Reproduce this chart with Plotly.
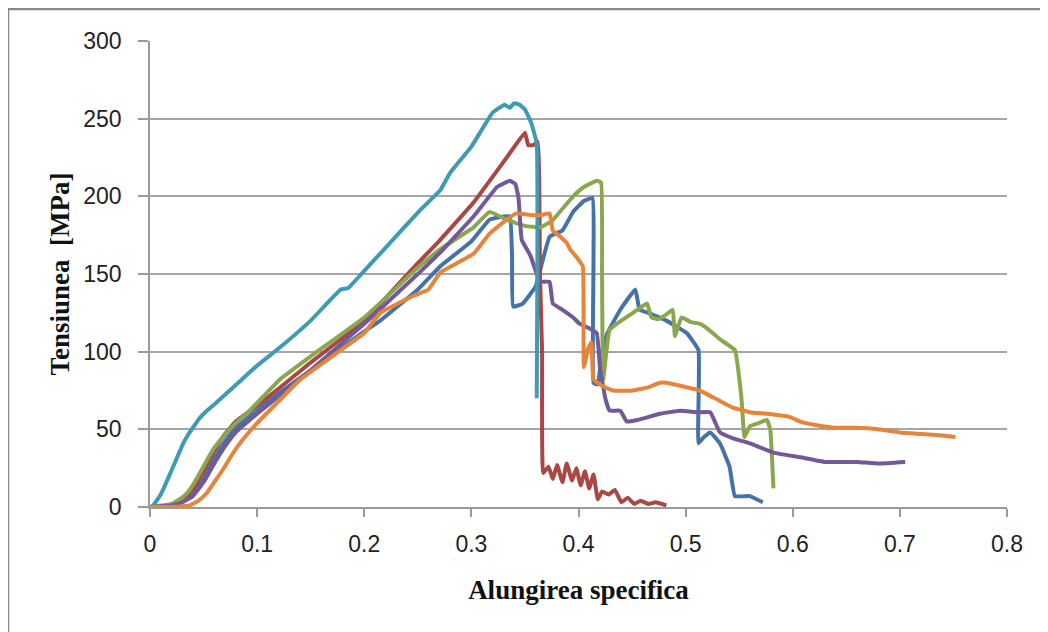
import plotly.graph_objects as go

# ---- data (strain [-], stress [MPa]) ----
blue_x = [0, 0.02, 0.03, 0.04, 0.05, 0.06, 0.07, 0.08, 0.1, 0.12, 0.15, 0.2, 0.215, 0.25, 0.271, 0.3, 0.317, 0.33, 0.336,
          0.338, 0.339, 0.348, 0.36, 0.373, 0.385, 0.395, 0.405, 0.413, 0.414, 0.418, 0.422, 0.427, 0.439, 0.453, 0.457,
          0.465, 0.482, 0.501, 0.512, 0.512, 0.517, 0.523, 0.532, 0.541, 0.546, 0.56, 0.572]
blue_y = [0, 1, 3, 8, 18, 31, 42, 51, 62, 73, 88, 113, 120, 140, 155, 171, 185, 187, 187,
          160, 129, 131, 142, 174, 178, 190, 197, 199, 80, 79, 100, 112, 127, 140, 127,
          125, 120, 112, 101, 41, 45, 48, 41, 26, 7, 7, 3]

red_x = [0, 0.02, 0.03, 0.04, 0.05, 0.06, 0.07, 0.08, 0.1, 0.15, 0.2, 0.25, 0.271, 0.302, 0.333, 0.35, 0.353, 0.358,
         0.362, 0.364, 0.366, 0.367, 0.372, 0.376, 0.38, 0.385, 0.389, 0.394, 0.398, 0.402, 0.406, 0.41, 0.414,
         0.418, 0.422, 0.428, 0.434, 0.44, 0.446, 0.452, 0.458, 0.465, 0.472, 0.482]
red_y = [0, 1, 4, 11, 23, 36, 47, 55, 65, 93, 120, 157, 172, 196, 225, 241, 233, 233,
         235, 150, 100, 22, 26, 18, 27, 16, 28, 17, 25, 14, 23, 12, 21,
         5, 10, 8, 11, 3, 6, 2, 4, 2, 3, 1]

green_x = [0, 0.02, 0.03, 0.037, 0.045, 0.053, 0.06, 0.068, 0.08, 0.09, 0.1, 0.121, 0.15, 0.2, 0.25, 0.271, 0.302,
           0.317, 0.333, 0.35, 0.364, 0.375, 0.385, 0.395, 0.405, 0.417, 0.421, 0.422, 0.423, 0.429, 0.44, 0.451,
           0.464, 0.468, 0.475, 0.482, 0.488, 0.49, 0.496, 0.505, 0.513, 0.52, 0.532, 0.546, 0.552, 0.555, 0.56,
           0.568, 0.576, 0.579, 0.582]
green_y = [0, 2, 6, 11, 20, 30, 38, 45, 54, 60, 67, 82, 97, 122, 154, 166, 180,
           190, 185, 181, 180, 184, 192, 200, 206, 210, 209, 150, 82, 114, 120, 125,
           131, 122, 121, 124, 127, 110, 122, 119, 118, 115, 108, 101, 71, 45, 52,
           54, 56, 50, 12]

purple_x = [0, 0.02, 0.03, 0.04, 0.05, 0.06, 0.07, 0.08, 0.1, 0.15, 0.2, 0.25, 0.271, 0.302, 0.324, 0.336, 0.341,
            0.344, 0.347, 0.355, 0.361, 0.364, 0.373, 0.376, 0.385, 0.389, 0.395, 0.401, 0.41, 0.417, 0.42, 0.425,
            0.429, 0.439, 0.445, 0.455, 0.476, 0.495, 0.511, 0.523, 0.532, 0.545, 0.56, 0.582, 0.607, 0.63, 0.66,
            0.68, 0.705]
purple_y = [0, 1, 3, 7, 16, 28, 39, 48, 60, 88, 118, 150, 164, 187, 206, 210, 208,
            199, 172, 162, 150, 145, 145, 131, 127, 125, 122, 118, 115, 112, 90, 70,
            62, 62, 55, 56, 60, 62, 61, 61, 48, 44, 41, 35, 32, 29, 29,
            28, 29]

cyan_x = [0, 0.003, 0.01, 0.016, 0.021, 0.026, 0.031, 0.036, 0.041, 0.046, 0.053, 0.06, 0.068, 0.076, 0.084, 0.1,
          0.12, 0.15, 0.178, 0.185, 0.2, 0.22, 0.252, 0.271, 0.28, 0.3, 0.32, 0.331, 0.336, 0.34, 0.345, 0.35,
          0.356, 0.361, 0.361]
cyan_y = [0, 1, 8, 17, 25, 33, 41, 47, 52, 57, 62, 66, 71, 76, 81, 91,
          102, 120, 140, 141, 152, 167, 191, 204, 215, 232, 254, 259, 257, 260, 259, 256,
          247, 234, 70]

orange_x = [0, 0.02, 0.037, 0.045, 0.053, 0.06, 0.068, 0.076, 0.084, 0.1, 0.12, 0.14, 0.17, 0.2, 0.215, 0.246,
            0.26, 0.271, 0.302, 0.317, 0.333, 0.342, 0.355, 0.365, 0.373, 0.376, 0.383, 0.389, 0.392, 0.398, 0.404,
            0.405, 0.409, 0.412, 0.414, 0.422, 0.432, 0.451, 0.465, 0.476, 0.482, 0.495, 0.513, 0.53, 0.544, 0.56,
            0.576, 0.597, 0.607, 0.62, 0.64, 0.66, 0.68, 0.7, 0.72, 0.74, 0.752]
orange_y = [0, 0, 1, 4, 9, 16, 24, 33, 41, 54, 68, 82, 97, 112, 125, 136,
            140, 151, 163, 176, 185, 189, 188, 188, 189, 178, 174, 170, 166, 161, 155,
            90, 102, 106, 82, 78, 75, 75, 77, 80, 80, 78, 75, 69, 64, 61,
            60, 58, 55, 53, 51, 51, 50, 48, 47, 46, 45]

series = [
    ("S1", blue_x, blue_y, "#4573A8"),
    ("S2", red_x, red_y, "#AA4643"),
    ("S3", green_x, green_y, "#8AA74F"),
    ("S4", purple_x, purple_y, "#72599A"),
    ("S5", cyan_x, cyan_y, "#3F9BB3"),
    ("S6", orange_x, orange_y, "#E5843B"),
]

x_ticks = [0, 0.1, 0.2, 0.3, 0.4, 0.5, 0.6, 0.7, 0.8]
y_ticks = [0, 50, 100, 150, 200, 250, 300]

fig = go.Figure()
for name, xs, ys, col in series:
    fig.add_trace(go.Scatter(x=xs, y=ys, mode="lines", name=name,
                             line=dict(color=col, width=4, shape="spline", smoothing=0.3),
                             showlegend=False))

tick_font = dict(family="Liberation Sans, Arial, sans-serif", size=23, color="#222222")
title_font = dict(family="Liberation Serif, Times New Roman, serif", size=27, color="#111111")

# page body has an 8px margin, so the figure is placed at (8, 8)
W, H = 1040, 624
L, T = 142, 33
R = W - (1007 - 8)
B = H - (507 - 8)
plot_w = W - L - R
plot_h = H - T - B

fig.update_layout(
    width=W, height=H,
    margin=dict(l=L, r=R, t=T, b=B),
    paper_bgcolor="white", plot_bgcolor="white",
    xaxis=dict(range=[0, 0.8], tickvals=x_ticks, ticktext=[("%g" % v) for v in x_ticks],
               showgrid=False, zeroline=False, showline=True, linecolor="#9a9a9a", linewidth=1.5,
               ticks="outside", ticklen=8, tickwidth=1.5, tickcolor="#9a9a9a",
               tickfont=tick_font, ticklabelstandoff=8,
               title=dict(text="<b>Alungirea specifica</b>", font=title_font, standoff=24)),
    yaxis=dict(range=[0, 300], tickvals=y_ticks,
               showgrid=True, gridcolor="#a6a6a6", gridwidth=1.5, zeroline=False,
               showline=True, linecolor="#9a9a9a", linewidth=1.5,
               ticks="outside", ticklen=10, tickwidth=1.5, tickcolor="#9a9a9a",
               tickfont=tick_font, ticklabelstandoff=12,
               title=dict(text="<b>Tensiunea  [MPa]</b>", font=title_font, standoff=6)),
    shapes=[dict(type="rect", xref="paper", yref="paper",
                 x0=(0 - L) / plot_w, x1=1.2, y0=-0.4, y1=(plot_h + T - 1) / plot_h,
                 line=dict(color="#878787", width=2.5), fillcolor="rgba(0,0,0,0)", layer="below")],
)

fig.write_html("out.html")
